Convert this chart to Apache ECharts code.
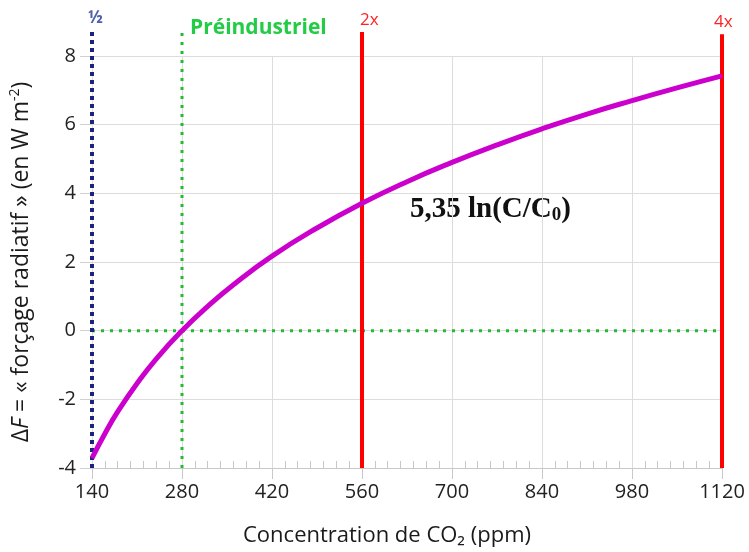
<!DOCTYPE html>
<html>
<head>
    <meta charset="utf-8">
    <title>Forçage radiatif du CO2</title>
    <script src="https://cdn.jsdelivr.net/npm/echarts@6/dist/echarts.min.js"></script>
    <style>
        html, body { margin: 0; padding: 0; background: #fff; }
        #chart1 { width: 749px; height: 552px; }
    </style>
</head>
<body>
<div id="chart1"></div>
<script type="text/javascript">
    // valeurs
    var concentration = [140, 160, 180, 210, 240, 280, 320, 360, 420, 490, 560, 630, 700, 770, 840, 910, 980, 1050, 1120];
    var forcing = [-3.71, -3.0, -2.36, -1.54, -0.82, 0, 0.71, 1.34, 2.17, 2.99, 3.71, 4.34, 4.9, 5.41, 5.88, 6.31, 6.7, 7.07, 7.42];

    // lignes verticales de repère
    var markerX = [140, 280, 560, 1120];
    var markerTop = [8.7, 8.7, 8.7, 8.63];
    var markerLabels = ['½', 'Préindustriel', '2x', '4x'];

    var xTicks = [140, 280, 420, 560, 700, 840, 980, 1120];
    var yTicks = [-4, -2, 0, 2, 4, 6, 8];

    var font = '"Open Sans", "Noto Sans", sans-serif';

    var myChart1 = echarts.init(document.getElementById('chart1'));

    function vline(i, color, type, width, label) {
        return {
            type: 'line',
            silent: true,
            clip: false,
            symbol: 'none',
            z: 3,
            lineStyle: { color: color, width: width, type: type, cap: 'butt' },
            data: [[markerX[i], -4], [markerX[i], markerTop[i]]],
            label: { show: false },
            endLabel: label
        };
    }

    var option = {
        animation: false,
        grid: { left: 90, right: 27, top: 56, bottom: 80 },
        xAxis: {
            type: 'value',
            min: xTicks[0],
            max: xTicks[xTicks.length - 1],
            interval: 140,
            name: 'Concentration de CO₂ (ppm)',
            nameLocation: 'middle',
            nameGap: 57,
            nameTextStyle: { fontFamily: font, fontSize: 22, color: '#1a1a1a', padding: [0, 40, 0, 0] },
            axisLine: { show: true, onZero: false, lineStyle: { color: '#c8c8c8', width: 1 } },
            axisTick: { show: true, length: 11, lineStyle: { color: '#c8c8c8' } },
            minorTick: { show: true, splitNumber: 7, length: -7, lineStyle: { color: '#c8c8c8' } },
            axisLabel: { fontFamily: font, fontSize: 20, color: '#222', margin: 14, formatter: function (v) { return String(v); } },
            splitLine: { show: true, lineStyle: { color: '#dcdcdc', width: 1 } }
        },
        yAxis: {
            type: 'value',
            min: yTicks[0],
            max: yTicks[yTicks.length - 1],
            interval: 2,
            name: '{d|Δ}{f|F}{d| = « forçage radiatif » (en W m}{s|-2}{d|)}',
            nameLocation: 'middle',
            nameGap: 58,
            nameRotate: 90,
            nameTextStyle: {
                rich: {
                    d: { fontFamily: font, fontSize: 23, color: '#1a1a1a' },
                    f: { fontFamily: font, fontSize: 23, color: '#1a1a1a', fontStyle: 'italic' },
                    s: { fontFamily: font, fontSize: 14, color: '#1a1a1a', verticalAlign: 'top', padding: [0, 0, 12, 0] }
                }
            },
            axisLine: { show: false },
            axisTick: { show: true, length: 12, lineStyle: { color: '#d0d0d0' } },
            axisLabel: { fontFamily: font, fontSize: 20, color: '#222', margin: 16 },
            splitLine: { show: true, lineStyle: { color: '#dcdcdc', width: 1 } }
        },
        graphic: [{
            type: 'text',
            left: 410,
            top: 195,
            style: {
                text: '{a|5,35 ln(C/C}{b|0}{a|)}',
                rich: {
                    a: { fontFamily: '"Liberation Serif", "DejaVu Serif", serif', fontWeight: 'bold', fontSize: 29, fill: '#111' },
                    b: { fontFamily: '"Liberation Serif", "DejaVu Serif", serif', fontWeight: 'bold', fontSize: 19, fill: '#111', padding: [12, 0, 0, 0] }
                }
            }
        }],
        series: [
            {
                type: 'line',
                silent: true,
                symbol: 'none',
                z: 2,
                lineStyle: { color: '#22bb33', width: 3, type: [3, 6] },
                data: [[xTicks[0], 0], [xTicks[xTicks.length - 1], 0]]
            },
            vline(0, '#1a237e', [4, 4], 4, {
                show: true, formatter: markerLabels[0], color: '#5060aa',
                fontFamily: font, fontSize: 17, fontWeight: 'bold', offset: [-12, -14]
            }),
            vline(1, '#22bb33', [3, 6], 3, {
                show: true, formatter: markerLabels[1], color: '#22cc44',
                fontFamily: font, fontSize: 21, fontWeight: 'bold', offset: [0, -4]
            }),
            {
                type: 'line',
                silent: true,
                smooth: true,
                symbol: 'none',
                z: 4,
                lineStyle: { color: '#cc00cc', width: 5 },
                data: concentration.map(function (c, i) { return [c, forcing[i]]; })
            },
            vline(2, '#ff0000', 'solid', 4, {
                show: true, formatter: markerLabels[2], color: '#ff2222',
                fontFamily: font, fontSize: 17, offset: [-10, -12]
            }),
            vline(3, '#ff0000', 'solid', 4, {
                show: true, formatter: markerLabels[3], color: '#ff2222',
                fontFamily: font, fontSize: 17, offset: [-16, -12]
            })
        ]
    };
    myChart1.setOption(option);
</script>
</body>
</html>
